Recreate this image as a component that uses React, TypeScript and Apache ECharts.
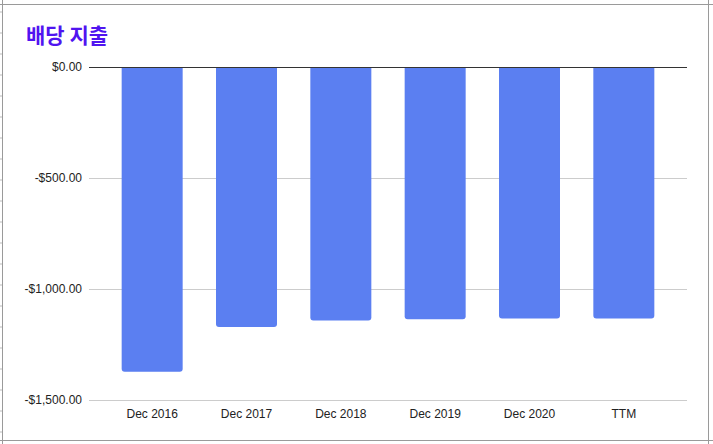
import React, { useEffect, useRef } from "react";
import * as echarts from "echarts";

const categories = ["Dec 2016", "Dec 2017", "Dec 2018", "Dec 2019", "Dec 2020", "TTM"];
const dividendsPaid = [-1373, -1171, -1142, -1136, -1133, -1133];
const yTicks = [0, -500, -1000, -1500];
const titleText = "배당 지출";

function fmt(v: number): string {
  const abs = Math.abs(v).toLocaleString("en-US", { minimumFractionDigits: 2, maximumFractionDigits: 2 });
  return (v < 0 ? "-$" : "$") + abs;
}

export default function App() {
  const ref = useRef<HTMLDivElement>(null);
  useEffect(() => {
    const chart = echarts.init(ref.current!, null, { renderer: "svg" });
    const sideTicks: any[] = [];
    for (let i = 0; i < 21; i++) {
      const y = 12 + i * 21;
      sideTicks.push({ type: "line", shape: { x1: 0, y1: y, x2: 2, y2: y }, style: { stroke: "#bbbbbb", lineWidth: 1 }, silent: true });
    }
    chart.setOption({
      animation: false,
      backgroundColor: "#ffffff",
      title: {
        text: titleText,
        left: 26,
        top: 23,
        padding: 0,
        textStyle: { color: "#5014f0", fontSize: 21, fontWeight: "bold", fontFamily: "Noto Sans CJK KR" },
      },
      grid: [
        { left: 89, right: 26, top: 67, bottom: 44, containLabel: false },
        { left: 105, right: 42, top: 67, bottom: 44, containLabel: false },
      ],
      xAxis: [
        { type: "value", gridIndex: 0, show: false },
        {
          type: "category",
          gridIndex: 1,
          data: categories,
          position: "bottom",
          axisLine: { show: false },
          axisTick: { show: false },
          axisLabel: { color: "#222222", fontSize: 12, fontFamily: "Liberation Sans, Arial", margin: 8 },
        },
      ],
      yAxis: [
        {
          type: "value",
          gridIndex: 0,
          min: -1500,
          max: 0,
          interval: 500,
          axisLine: { show: false },
          axisTick: { show: false },
          splitLine: { lineStyle: { color: "#cccccc", width: 1 } },
          axisLabel: {
            color: "#222222",
            fontSize: 12,
            fontFamily: "Liberation Sans, Arial",
            margin: 7,
            formatter: (v: number) => (yTicks.includes(v) ? fmt(v) : ""),
          },
        },
        {
          type: "value",
          gridIndex: 1,
          min: -1500,
          max: 0,
          interval: 500,
          show: false,
          splitLine: { show: false },
        },
      ],
      series: [
        {
          type: "line",
          xAxisIndex: 0,
          yAxisIndex: 0,
          data: [[0, 0], [1, 0]],
          symbol: "none",
          lineStyle: { width: 0, opacity: 0 },
          silent: true,
          markLine: {
            silent: true,
            symbol: "none",
            label: { show: false },
            lineStyle: { color: "#333333", width: 1, type: "solid" },
            data: [{ yAxis: 0 }],
          },
        },
        {
          type: "bar",
          xAxisIndex: 1,
          yAxisIndex: 1,
          data: dividendsPaid,
          barWidth: 61,
          itemStyle: { color: "#5b7ff1", borderRadius: [0, 0, 3, 3] },
        },
      ],
      graphic: [
        { type: "line", shape: { x1: 0, y1: 4.5, x2: 713, y2: 4.5 }, style: { stroke: "#9a9a9a", lineWidth: 1 }, silent: true },
        { type: "line", shape: { x1: 2.5, y1: 0, x2: 2.5, y2: 444 }, style: { stroke: "#9a9a9a", lineWidth: 1 }, silent: true },
        { type: "line", shape: { x1: 708.5, y1: 0, x2: 708.5, y2: 444 }, style: { stroke: "#9a9a9a", lineWidth: 1 }, silent: true },
        { type: "line", shape: { x1: 0, y1: 440.5, x2: 713, y2: 440.5 }, style: { stroke: "#9a9a9a", lineWidth: 1 }, silent: true },
        ...sideTicks,
      ],
    });
    return () => chart.dispose();
  }, []);
  return (
    <div
      ref={ref}
      style={{ position: "fixed", left: 0, top: 0, width: 713, height: 444, background: "#fff" }}
    />
  );
}
